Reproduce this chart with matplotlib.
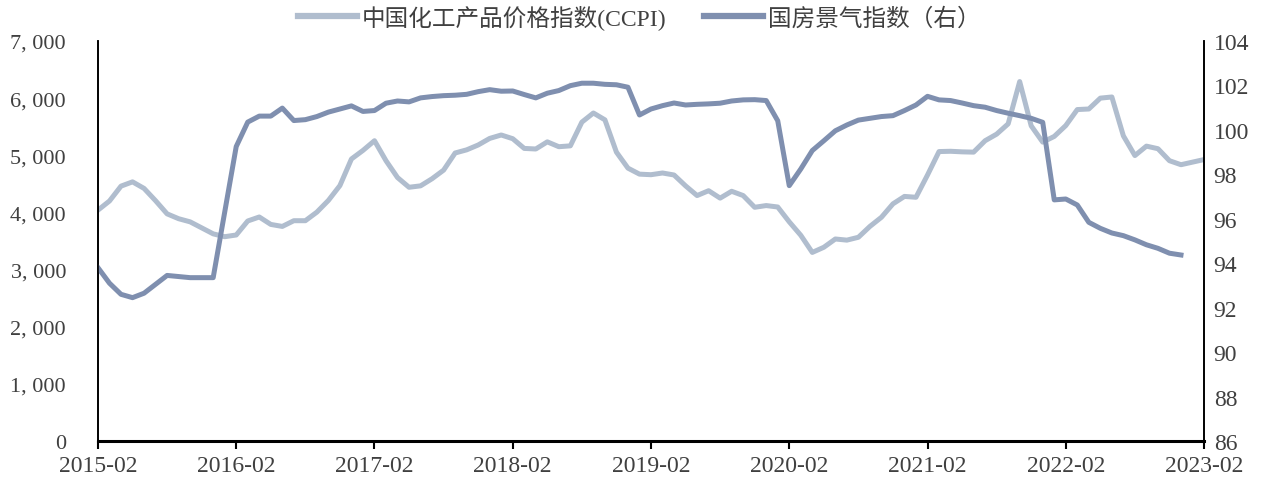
import matplotlib
matplotlib.use("Agg")
import matplotlib.pyplot as plt
import numpy as np
import pandas as pd

# monthly, 2015-02 .. 2023-02
months = pd.period_range("2015-02", "2023-02", freq="M").strftime("%Y-%m").tolist()

# 中国化工产品价格指数(CCPI), left axis
ccpi = [
    4040, 4200, 4460, 4535, 4420, 4205, 3975, 3890, 3835, 3730, 3625,
    3575, 3605, 3850, 3920, 3790, 3755, 3855, 3855, 4005, 4210, 4470, 4935,
    5085, 5255, 4905, 4610, 4440, 4465, 4590, 4740, 5040, 5095, 5180, 5295,
    5355, 5290, 5120, 5110, 5235, 5150, 5165, 5580, 5740, 5620, 5055, 4775,
    4670, 4660, 4690, 4655, 4465, 4295, 4380, 4250, 4370, 4295, 4090, 4120,
    4095, 3835, 3600, 3300, 3390, 3535, 3515, 3565, 3755, 3915, 4150, 4280,
    4265, 4655, 5065, 5070, 5060, 5055, 5255, 5370, 5550, 6290, 5515, 5230,
    5330, 5520, 5800, 5810, 6000, 6020, 5340, 4995, 5160, 5115, 4905, 4835,
    4880, 4925,
]

# 国房景气指数, right axis (ends 2022-12)
housing = [
    93.80, 93.10, 92.60, 92.45, 92.65, 93.05, 93.45, 93.40, 93.35, 93.35, 93.35,
    96.30, 99.25, 100.35, 100.62, 100.62, 100.98, 100.42, 100.46, 100.60, 100.80, 100.94, 101.08,
    100.83, 100.87, 101.20, 101.30, 101.26, 101.44, 101.50, 101.54, 101.56, 101.60, 101.72, 101.81,
    101.74, 101.75, 101.59, 101.44, 101.65, 101.77, 101.99, 102.10, 102.10, 102.05, 102.03, 101.92,
    100.67, 100.94, 101.09, 101.21, 101.12, 101.15, 101.17, 101.20, 101.30, 101.35, 101.36, 101.32,
    100.41, 97.49, 98.24, 99.07, 99.51, 99.96, 100.22, 100.44, 100.52, 100.60, 100.64, 100.87,
    101.12, 101.51, 101.35, 101.32, 101.21, 101.09, 101.02, 100.87, 100.75, 100.64, 100.52, 100.34,
    96.85, 96.89, 96.62, 95.84, 95.57, 95.36, 95.24, 95.05, 94.83, 94.67, 94.45, 94.37,
]

light = "#B0BDCE"
dark = "#7F8FAF"
txt = "#404040"
num_font = ["Liberation Serif", "Noto Sans CJK SC"]

fig = plt.figure(figsize=(12.69, 4.81), dpi=100)
ax = fig.add_axes([0.0772, 0.0811, 0.8716, 0.8316])
ax2 = ax.twinx()

x = np.arange(len(months))
l1, = ax.plot(x, ccpi, color=light, lw=3.6, solid_joinstyle="round",
              label="中国化工产品价格指数(CCPI)")
l2, = ax2.plot(x[:len(housing)], housing, color=dark, lw=3.6, solid_joinstyle="round",
               label="国房景气指数（右）")

ax.set_xlim(0, len(months) - 1)
ax.set_ylim(0, 7000)
ax2.set_ylim(86, 104)
ax.set_yticks(np.arange(0, 7001, 1000))
ax.set_yticklabels([f"{v // 1000:d}, 000" if v else "0" for v in range(0, 7001, 1000)])
ax2.set_yticks(np.arange(86, 105, 2))

ticks = x[::12]
ax.set_xticks(ticks)
ax.set_xticklabels([months[i] for i in ticks])

for a in (ax, ax2):
    a.spines["top"].set_visible(False)
    for s in ("left", "right", "bottom"):
        a.spines[s].set_color("black")
        a.spines[s].set_linewidth(1.2)
    for lab in a.get_yticklabels() + a.get_xticklabels():
        lab.set_family(num_font)
        lab.set_fontsize(17)
        lab.set_color(txt)
for lab in ax.get_yticklabels():
    lab.set_fontsize(16)
ax2.spines["bottom"].set_linewidth(2.2)
ax.tick_params(axis="x", direction="out", length=6, width=1.5, pad=4)
ax.tick_params(axis="y", length=0, pad=23)
ax2.tick_params(axis="y", length=0, pad=7)

leg = fig.legend(handles=[l1, l2], loc="center", bbox_to_anchor=(0.504, 0.963), ncol=2,
                 frameon=False, handlelength=2.5, handletextpad=0.2, columnspacing=1.6,
                 prop={"family": num_font, "size": 17})
for t in leg.get_texts():
    t.set_color(txt)
for h in leg.get_lines():
    h.set_linewidth(4.5)

fig.savefig("out.png", dpi=100)
